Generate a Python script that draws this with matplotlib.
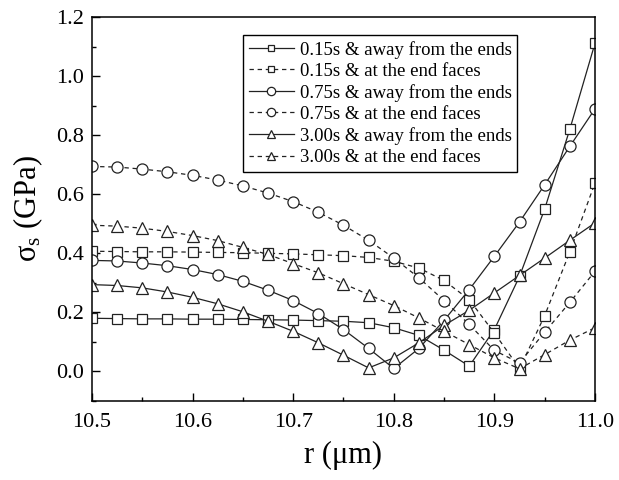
import numpy as np
import matplotlib
matplotlib.use("Agg")
import matplotlib.pyplot as plt
from matplotlib.ticker import MultipleLocator

plt.rcParams['font.family'] = ['Liberation Serif', 'DejaVu Serif']
plt.rcParams['mathtext.fontset'] = 'custom'
plt.rcParams['mathtext.rm'] = 'Liberation Serif'
plt.rcParams['mathtext.it'] = 'Liberation Serif:italic'

r = [10.5, 10.525, 10.55, 10.575, 10.6, 10.625, 10.65, 10.675, 10.7, 10.725, 10.75,
     10.775, 10.8, 10.825, 10.85, 10.875, 10.9, 10.925, 10.95, 10.975, 11.0]

s015_away = [0.180, 0.179, 0.178, 0.178, 0.177, 0.177, 0.176, 0.175, 0.174, 0.172, 0.170,
             0.165, 0.148, 0.122, 0.072, 0.018, 0.142, 0.322, 0.550, 0.820, 1.111]
s015_end = [0.407, 0.406, 0.405, 0.405, 0.404, 0.403, 0.402, 0.400, 0.398, 0.395, 0.392,
            0.386, 0.373, 0.350, 0.308, 0.243, 0.130, 0.010, 0.189, 0.405, 0.638]
s075_away = [0.376, 0.374, 0.367, 0.358, 0.345, 0.328, 0.305, 0.275, 0.240, 0.196, 0.142,
             0.078, 0.010, 0.078, 0.173, 0.277, 0.390, 0.506, 0.632, 0.762, 0.889]
s075_end = [0.694, 0.692, 0.685, 0.676, 0.664, 0.648, 0.628, 0.604, 0.575, 0.539, 0.495,
            0.444, 0.384, 0.317, 0.240, 0.159, 0.071, 0.029, 0.133, 0.234, 0.339]
s300_away = [0.294, 0.291, 0.283, 0.269, 0.251, 0.229, 0.202, 0.170, 0.136, 0.097, 0.055,
             0.012, 0.046, 0.097, 0.156, 0.207, 0.266, 0.325, 0.384, 0.444, 0.503]
s300_end = [0.495, 0.492, 0.485, 0.474, 0.460, 0.443, 0.420, 0.396, 0.365, 0.334, 0.297,
            0.260, 0.223, 0.181, 0.136, 0.091, 0.046, 0.009, 0.057, 0.106, 0.148]

series = [
    (s015_away, 's', '-', '0.15s & away from the ends'),
    (s015_end, 's', '--', '0.15s & at the end faces'),
    (s075_away, 'o', '-', '0.75s & away from the ends'),
    (s075_end, 'o', '--', '0.75s & at the end faces'),
    (s300_away, '^', '-', '3.00s & away from the ends'),
    (s300_end, '^', '--', '3.00s & at the end faces'),
]

fig = plt.figure(figsize=(6.19, 4.8), dpi=100)
ax = fig.add_axes([0.1486, 0.1646, 0.8126, 0.8000])

for vals, mk, ls, lab in series:
    ms = 6.5 if mk == 's' else 8
    line, = ax.plot(r, vals, color='#222222', linestyle=ls, linewidth=0.9,
                    marker=mk, markersize=ms, markerfacecolor='white',
                    markeredgecolor='#222222', markeredgewidth=0.9, label=lab)
    if ls == '--':
        line.set_dashes((3.5, 3))

ax.set_xlim(10.5, 11.0)
ax.set_ylim(-0.1, 1.2)
ax.xaxis.set_major_locator(MultipleLocator(0.1))
ax.xaxis.set_minor_locator(MultipleLocator(0.05))
ax.yaxis.set_major_locator(MultipleLocator(0.2))
ax.yaxis.set_minor_locator(MultipleLocator(0.1))
ax.tick_params(which='both', direction='in', labelsize=16, width=1)
ax.tick_params(which='major', length=5.5)
ax.tick_params(which='minor', length=3)
ax.tick_params(axis='x', pad=9)
ax.tick_params(axis='y', pad=6)
for sp in ax.spines.values():
    sp.set_linewidth(1.1)

ax.set_xlabel('r (μm)', fontsize=22, labelpad=6)
ax.set_ylabel(r'σ$_\mathregular{s}$ (GPa)', fontsize=22, labelpad=8)

leg = ax.legend(loc='upper right', bbox_to_anchor=(0.845, 0.953), fontsize=13.5,
                frameon=True, fancybox=False, edgecolor='black', framealpha=1,
                labelspacing=0.22, handlelength=2.4, handletextpad=0.3,
                borderpad=0.3, borderaxespad=0, markerscale=0.75)
leg.get_frame().set_linewidth(1.0)

fig.savefig('out.png', dpi=100)
